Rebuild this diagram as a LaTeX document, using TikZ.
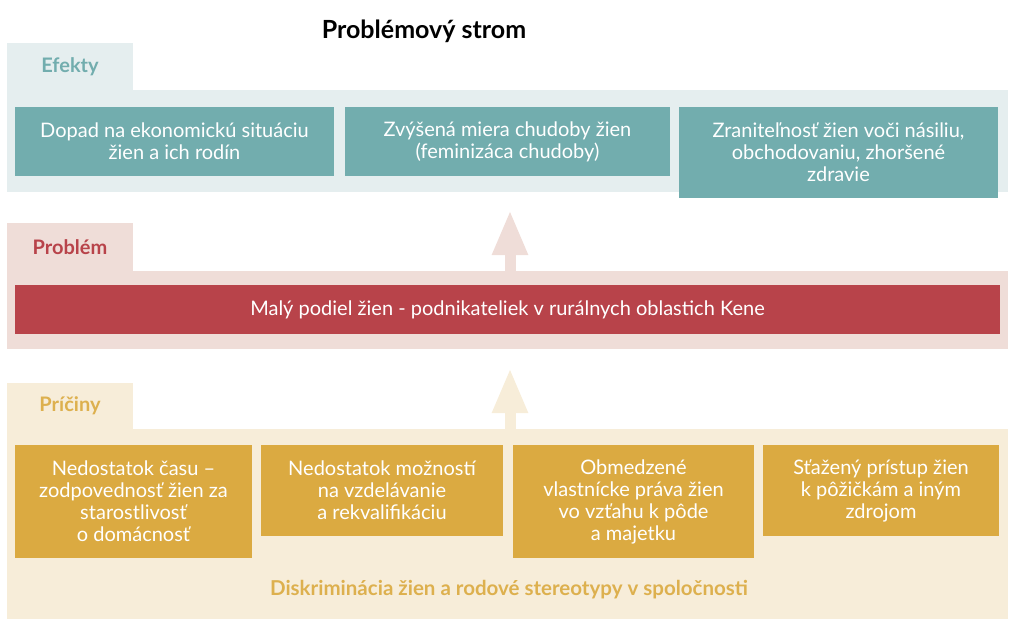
\documentclass[tikz,border=0pt]{standalone}
\usepackage{fontspec}
\setmainfont{Lato}
\usepackage{tikz}
\usetikzlibrary{arrows.meta, positioning}
\definecolor{efbg}{HTML}{E5EEEF}
\definecolor{efteal}{HTML}{72ADAE}
\definecolor{probbg}{HTML}{EFDDD8}
\definecolor{probred}{HTML}{B8434A}
\definecolor{causebg}{HTML}{F7EDD9}
\definecolor{causegold}{HTML}{DBAA41}
\definecolor{causelbl}{HTML}{DDB04E}
\tikzset{
    band/.style={inner sep=0pt, outer sep=0pt, anchor=north west, minimum width=1001pt},
    tab/.style={band, minimum width=126pt, font=\fontsize{20}{22}\selectfont\bfseries},
    box/.style={inner sep=0pt, outer sep=0pt, align=center, text=white, font=\fontsize{20}{22}\selectfont},
    efbox/.style={box, fill=efteal},
    causebox/.style={box, fill=causegold},
    uparr/.style={-{Triangle[width=33pt, length=45pt]}, line width=11pt}
}

\begin{document}
\begin{tikzpicture}[x=1pt, y=-1pt]
        \useasboundingbox (0,0) rectangle (1024,637);
        \node[font=\fontsize{25}{28}\selectfont\bfseries] (title) at (424,31) {Problémový strom};
        % bands and their tabs
        \node[band, fill=efbg, minimum height=102pt] (efband) at (7,90) {};
        \node[tab, fill=efbg, text=efteal, minimum height=47pt] (eftab) at (7,43) {Efekty};
        \node[band, fill=probbg, minimum height=78pt] (probband) at (7,271) {};
        \node[tab, fill=probbg, text=probred, minimum height=48pt] (probtab) at (7,223) {Problém};
        \node[band, fill=causebg, minimum height=190pt] (causeband) at (7,429) {};
        \node[tab, fill=causebg, text=causelbl, minimum height=46pt] (causetab) at (7,383) {Príčiny};
        \coordinate (axis) at (510,0);
        \draw[uparr, probbg, shorten >=18pt] (axis |- probband.north) -- (axis |- efband.south);
        \draw[uparr, causebg, shorten >=19pt] (axis |- causeband.north) -- (axis |- probband.south);
        % effects
        \node[efbox, minimum width=319pt, minimum height=69pt, anchor=north west] (ef1) at (15,107)
            {Dopad na ekonomickú situáciu\\žien a ich rodín};
        \node[efbox, minimum width=325pt, minimum height=69pt, right=11pt of ef1.north east, anchor=north west] (ef2)
            {Zvýšená miera chudoby žien\\(feminizáca chudoby)};
        \node[efbox, minimum width=319pt, minimum height=91pt, right=9pt of ef2.north east, anchor=north west] (ef3)
            {Zraniteľnosť žien voči násiliu,\\obchodovaniu, zhoršené\\zdravie};
        % problem
        \node[box, fill=probred, minimum width=985pt, minimum height=49pt, anchor=north west] (bar) at (15,285)
            {Malý podiel žien - podnikateliek v rurálnych oblastich Kene};
        % causes
        \node[causebox, minimum width=237pt, minimum height=113pt, anchor=north west] (c1) at (15,445)
            {Nedostatok času –\\zodpovednosť žien za\\starostlivosť\\o domácnosť};
        \node[causebox, minimum width=242pt, minimum height=91pt, right=9pt of c1.north east, anchor=north west] (c2)
            {Nedostatok možností\\na vzdelávanie\\a rekvalifikáciu};
        \node[causebox, minimum width=241pt, minimum height=113pt, right=10pt of c2.north east, anchor=north west] (c3)
            {Obmedzené\\vlastnícke práva žien\\vo vzťahu k pôde\\a majetku};
        \node[causebox, minimum width=236pt, minimum height=91pt, right=9pt of c3.north east, anchor=north west] (c4)
            {Sťažený prístup žien\\k pôžičkám a iným\\zdrojom};
        \node[text=causelbl, font=\fontsize{20.5}{22}\selectfont\bfseries] (root) at (509,590)
            {Diskriminácia žien a rodové stereotypy v spoločnosti};
    \end{tikzpicture}
\end{document}
